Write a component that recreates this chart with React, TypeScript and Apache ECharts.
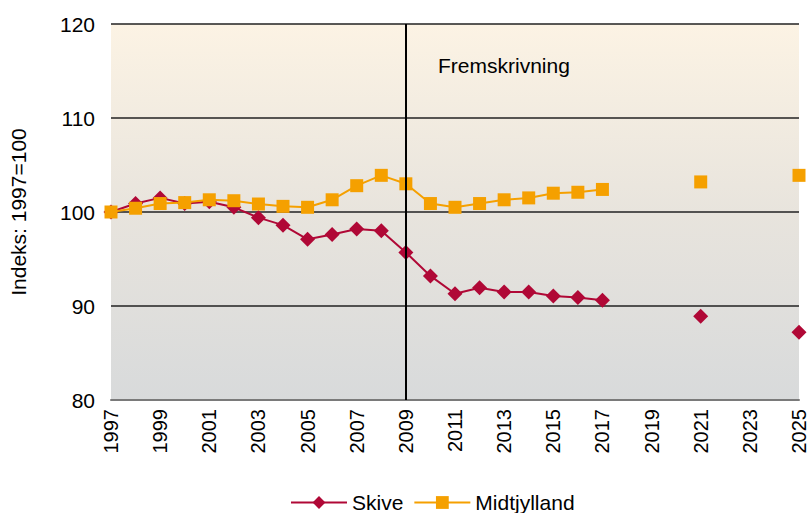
import React, { useEffect, useRef } from "react";
import * as echarts from "echarts";

const years: string[] = [];
for (let y = 1997; y <= 2025; y++) years.push(String(y));

const skive: (number | null)[] = [
  100.0, 100.9, 101.5, 100.9, 101.1, 100.5, 99.4, 98.6, 97.1, 97.6, 98.2, 98.0, 95.7,
  93.2, 91.3, 91.95, 91.5, 91.5, 91.06, 90.9, 90.6,
  null, null, null, 88.9, null, null, null, 87.2,
];

const midtjylland: (number | null)[] = [
  100.0, 100.4, 100.9, 101.0, 101.3, 101.2, 100.85, 100.6, 100.5, 101.3, 102.8, 103.9, 103.0,
  100.9, 100.5, 100.9, 101.3, 101.5, 102.0, 102.1, 102.4,
  null, null, null, 103.2, null, null, null, 103.9,
];

const yTicks = [80, 90, 100, 110, 120];
const splitYear = "2009";
const annotation = "Fremskrivning";
const yTitle = "Indeks: 1997=100";

export default function App() {
  const ref = useRef<HTMLDivElement>(null);
  useEffect(() => {
    if (!ref.current) return;
    const chart = echarts.init(ref.current, undefined, { renderer: "svg" });
    const font = "'Liberation Sans', Arial, sans-serif";
    chart.setOption({
      animation: false,
      textStyle: { fontFamily: font },
      grid: {
        left: 111,
        right: 8,
        top: 24,
        bottom: 113,
        show: true,
        borderWidth: 0,
        backgroundColor: new echarts.graphic.LinearGradient(0, 0, 0, 1, [
          { offset: 0, color: "#FCF3E4" },
          { offset: 0.5, color: "#E8E4DD" },
          { offset: 1, color: "#D8DADB" },
        ]),
      },
      legend: {
        left: 290,
        bottom: 0,
        padding: 0,
        itemWidth: 56,
        itemHeight: 16,
        itemGap: 10,
        textStyle: { fontSize: 21, color: "#000", fontFamily: font },
        data: ["Skive", "Midtjylland"],
      },
      xAxis: {
        type: "category",
        data: years,
        boundaryGap: false,
        axisLine: { show: true, lineStyle: { color: "#7a7a7a", width: 2 } },
        axisTick: { show: false },
        axisLabel: {
          interval: 1,
          rotate: 90,
          fontSize: 20,
          color: "#000",
          margin: 9,
          fontFamily: font,
        },
        splitLine: { show: false },
      },
      yAxis: {
        type: "value",
        min: yTicks[0],
        max: yTicks[yTicks.length - 1],
        interval: 10,
        name: yTitle,
        nameLocation: "middle",
        nameGap: 82,
        nameTextStyle: { fontSize: 21, color: "#000", fontFamily: font },
        axisLine: { show: false },
        axisTick: { show: false },
        axisLabel: { fontSize: 21, color: "#000", margin: 16, fontFamily: font },
        splitLine: {
          show: true,
          lineStyle: { color: "#222", width: 1.5 },
        },
      },
      graphic: [
        {
          type: "text",
          left: 438,
          top: 55,
          style: { text: annotation, fontSize: 21, fill: "#000", fontFamily: font },
        },
      ],
      series: [
        {
          name: "Skive",
          type: "line",
          data: skive,
          connectNulls: false,
          symbol: "diamond",
          symbolSize: 15,
          showSymbol: true,
          itemStyle: { color: "#B00836" },
          lineStyle: { color: "#B00836", width: 2 },
          z: 3,
          markLine: {
            silent: true,
            symbol: "none",
            label: { show: false },
            lineStyle: { color: "#000", width: 2, type: "solid" },
            data: [{ xAxis: splitYear }],
          },
        },
        {
          name: "Midtjylland",
          type: "line",
          data: midtjylland,
          connectNulls: false,
          symbol: "rect",
          symbolSize: 13,
          showSymbol: true,
          itemStyle: { color: "#F5A000" },
          lineStyle: { color: "#F5A000", width: 2 },
          z: 4,
        },
      ],
    });
    return () => chart.dispose();
  }, []);
  return (
    <div
      ref={ref}
      style={{ position: "absolute", left: 0, top: 0, width: 809, height: 513 }}
    />
  );
}
